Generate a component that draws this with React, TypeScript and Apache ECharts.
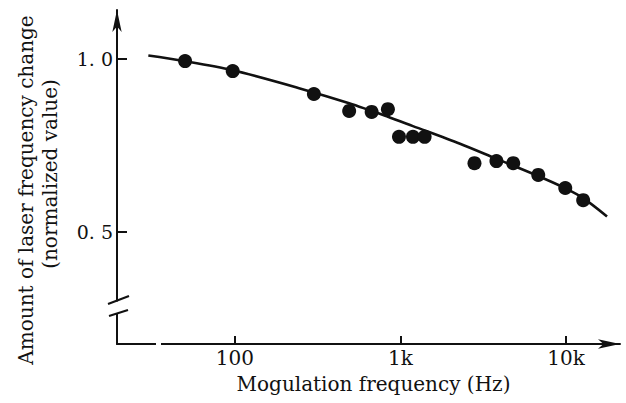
import React, { useEffect, useRef } from "react";
import * as echarts from "echarts";

// Fitted curve
const fitFreq = [30, 48, 96, 247, 490, 840, 1190, 2290, 3780, 6780, 9860, 12700, 17700];
const fitValue = [1.01, 0.995, 0.968, 0.915, 0.872, 0.833, 0.806, 0.755, 0.712, 0.662, 0.627, 0.598, 0.545];

// Measured points
const measFreq = [50, 97, 300, 490, 670, 840, 980, 1190, 1400, 2800, 3800, 4800, 6800, 9900, 12700];
const measValue = [0.994, 0.965, 0.899, 0.85, 0.847, 0.855, 0.775, 0.775, 0.775, 0.699, 0.705, 0.699, 0.665, 0.627, 0.592];

// Ticks
const xTicks = [100, 1000, 10000];
const xTickLabels = ["100", "1k", "10k"];
const yTicks = [0.5, 1.0];
const yTickLabels = ["0. 5", "1. 0"];

const xTitle = "Mogulation frequency (Hz)";
const yTitleLine1 = "Amount of laser frequency change";
const yTitleLine2 = "(normalized value)";

const FONT = "DejaVu Serif";
const INK = "#111";

export default function App() {
  const ref = useRef<HTMLDivElement>(null);
  useEffect(() => {
    if (!ref.current) return;
    const chart = echarts.init(ref.current, undefined, { renderer: "svg" });
    chart.setOption({
      animation: false,
      backgroundColor: "#fff",
      grid: { left: 117, right: 6, top: 10, bottom: 59, containLabel: false },
      xAxis: {
        type: "log",
        logBase: 10,
        min: 19.4,
        max: 21200,
        name: xTitle,
        nameLocation: "middle",
        nameGap: 30,
        nameTextStyle: { fontFamily: FONT, fontSize: 20, color: INK, padding: [0, 0, 0, 10] },
        axisLine: {
          show: true,
          lineStyle: { color: INK, width: 2 },
          symbol: ["none", "arrow"],
          symbolSize: [7, 22],
        },
        axisTick: {
          show: true,
          inside: true,
          length: 8,
          lineStyle: { color: INK, width: 2 },
          customValues: xTicks,
        },
        axisLabel: {
          show: true,
          margin: 4,
          fontFamily: FONT,
          fontSize: 20,
          color: INK,
          customValues: xTicks,
          formatter: (v: number) => {
            const i = xTicks.findIndex((t) => Math.abs(Math.log10(t) - Math.log10(v)) < 1e-6);
            return i >= 0 ? xTickLabels[i] : "";
          },
        },
        splitLine: { show: false },
        minorTick: { show: false },
      },
      yAxis: {
        type: "value",
        min: 0.1763,
        max: 1.1416,
        axisLine: {
          show: true,
          lineStyle: { color: INK, width: 2 },
          symbol: ["none", "arrow"],
          symbolSize: [7, 22],
        },
        axisTick: {
          show: true,
          inside: true,
          length: 10,
          lineStyle: { color: INK, width: 2 },
          customValues: yTicks,
        },
        axisLabel: {
          show: true,
          margin: 4,
          fontFamily: FONT,
          fontSize: 19,
          color: INK,
          customValues: yTicks,
          formatter: (v: number) => {
            const i = yTicks.findIndex((t) => Math.abs(t - v) < 1e-6);
            return i >= 0 ? yTickLabels[i] : "";
          },
        },
        splitLine: { show: false },
      },
      series: [
        {
          name: "fit",
          type: "line",
          smooth: 0.3,
          symbol: "none",
          lineStyle: { color: INK, width: 2.6 },
          data: fitFreq.map((f, i) => [f, fitValue[i]]),
          z: 3,
        },
        {
          name: "measured",
          type: "scatter",
          symbol: "circle",
          symbolSize: 14,
          itemStyle: { color: INK, opacity: 1 },
          data: measFreq.map((f, i) => [f, measValue[i]]),
          z: 4,
        },
      ],
      graphic: [
        // y axis title, two lines reading bottom to top
        {
          type: "text",
          x: 26,
          y: 190,
          rotation: Math.PI / 2,
          z: 100,
          style: {
            text: yTitleLine1,
            font: `20px "${FONT}"`,
            fill: INK,
            align: "center",
            verticalAlign: "middle",
          },
        },
        {
          type: "text",
          x: 50,
          y: 174,
          rotation: Math.PI / 2,
          z: 100,
          style: {
            text: yTitleLine2,
            font: `20px "${FONT}"`,
            fill: INK,
            align: "center",
            verticalAlign: "middle",
          },
        },
        // axis break on the y axis
        { type: "rect", z: 100, shape: { x: 111, y: 301.5, width: 12, height: 11.5 }, style: { fill: "#fff" } },
        { type: "line", z: 101, shape: { x1: 108, y1: 304, x2: 129, y2: 296 }, style: { stroke: INK, lineWidth: 2 } },
        { type: "line", z: 101, shape: { x1: 109, y1: 316, x2: 128, y2: 310 }, style: { stroke: INK, lineWidth: 2 } },
        // small gap in the x axis line
        { type: "rect", z: 100, shape: { x: 156, y: 342, width: 5, height: 4 }, style: { fill: "#fff" } },
      ],
    });
    return () => chart.dispose();
  }, []);
  return (
    <div
      ref={ref}
      style={{ position: "fixed", left: 0, top: 0, width: 626, height: 403, background: "#fff" }}
    />
  );
}
